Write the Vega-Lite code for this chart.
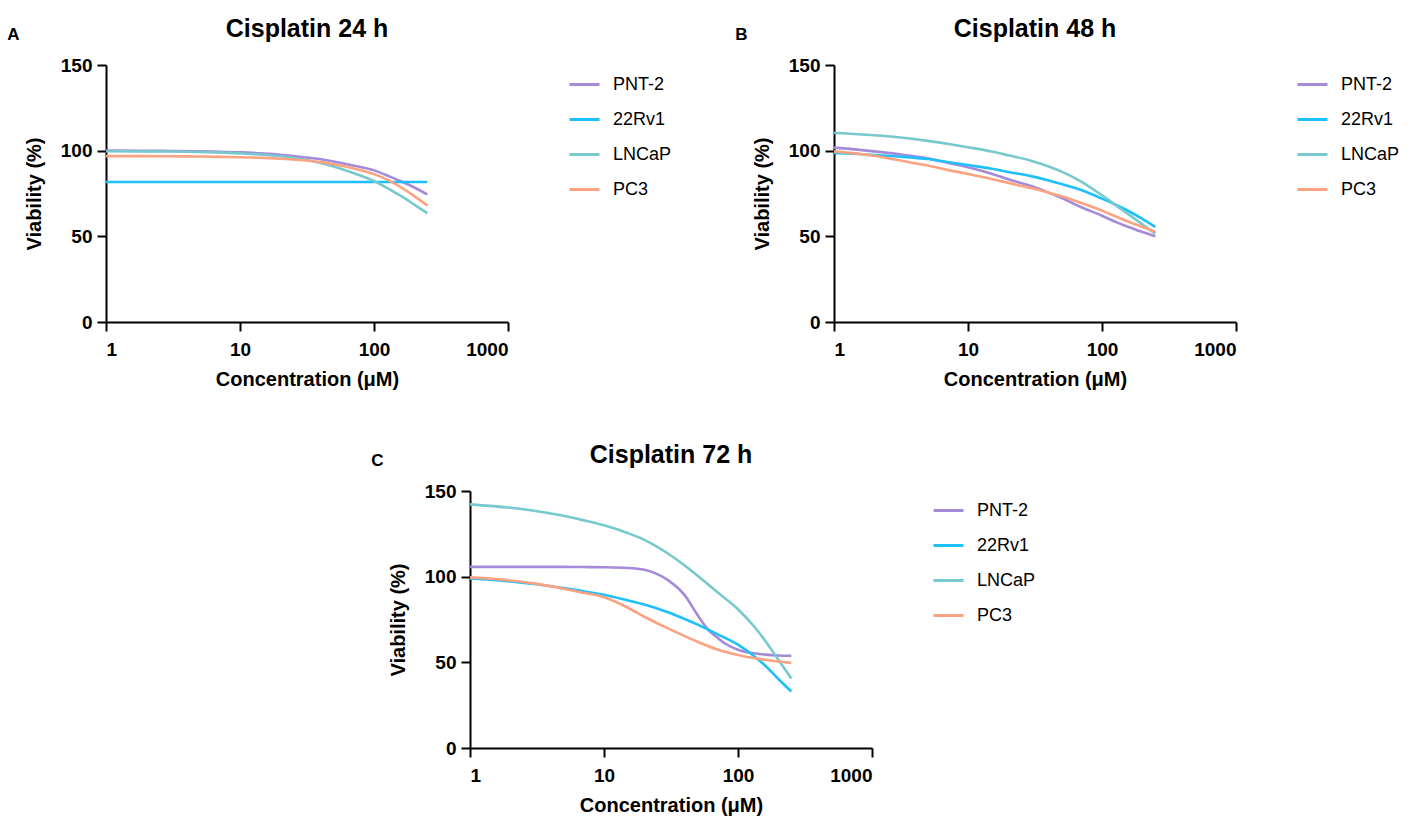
{
"$schema": "https://vega.github.io/schema/vega-lite/v6.json",
"background": "white",
"padding": {"left": 7, "top": 17, "right": 5, "bottom": 5},
"datasets": {
"curves": [
{"panel":"A","line":"PNT-2","conc":1,"viability":100},{"panel":"A","line":"PNT-2","conc":2,"viability":99.9},{"panel":"A","line":"PNT-2","conc":3,"viability":99.8},{"panel":"A","line":"PNT-2","conc":5,"viability":99.6},{"panel":"A","line":"PNT-2","conc":7,"viability":99.3},{"panel":"A","line":"PNT-2","conc":10,"viability":99},{"panel":"A","line":"PNT-2","conc":15,"viability":98.3},{"panel":"A","line":"PNT-2","conc":20,"viability":97.6},{"panel":"A","line":"PNT-2","conc":30,"viability":96.2},{"panel":"A","line":"PNT-2","conc":40,"viability":95},{"panel":"A","line":"PNT-2","conc":50,"viability":93.7},{"panel":"A","line":"PNT-2","conc":70,"viability":91.3},{"panel":"A","line":"PNT-2","conc":100,"viability":88.5},{"panel":"A","line":"PNT-2","conc":130,"viability":85},{"panel":"A","line":"PNT-2","conc":160,"viability":82},{"panel":"A","line":"PNT-2","conc":200,"viability":78.5},{"panel":"A","line":"PNT-2","conc":250,"viability":74.5},
{"panel":"A","line":"22Rv1","conc":1,"viability":81.7},{"panel":"A","line":"22Rv1","conc":10,"viability":81.7},{"panel":"A","line":"22Rv1","conc":100,"viability":81.7},{"panel":"A","line":"22Rv1","conc":250,"viability":81.7},
{"panel":"A","line":"LNCaP","conc":1,"viability":99.7},{"panel":"A","line":"LNCaP","conc":2,"viability":99.6},{"panel":"A","line":"LNCaP","conc":3,"viability":99.5},{"panel":"A","line":"LNCaP","conc":5,"viability":99.2},{"panel":"A","line":"LNCaP","conc":7,"viability":98.9},{"panel":"A","line":"LNCaP","conc":10,"viability":98.4},{"panel":"A","line":"LNCaP","conc":15,"viability":97.6},{"panel":"A","line":"LNCaP","conc":20,"viability":96.7},{"panel":"A","line":"LNCaP","conc":30,"viability":94.8},{"panel":"A","line":"LNCaP","conc":40,"viability":92.8},{"panel":"A","line":"LNCaP","conc":50,"viability":90.8},{"panel":"A","line":"LNCaP","conc":70,"viability":87},{"panel":"A","line":"LNCaP","conc":100,"viability":82.3},{"panel":"A","line":"LNCaP","conc":130,"viability":77.5},{"panel":"A","line":"LNCaP","conc":160,"viability":73.5},{"panel":"A","line":"LNCaP","conc":200,"viability":68.5},{"panel":"A","line":"LNCaP","conc":250,"viability":63.5},
{"panel":"A","line":"PC3","conc":1,"viability":96.8},{"panel":"A","line":"PC3","conc":2,"viability":96.8},{"panel":"A","line":"PC3","conc":3,"viability":96.7},{"panel":"A","line":"PC3","conc":5,"viability":96.6},{"panel":"A","line":"PC3","conc":7,"viability":96.4},{"panel":"A","line":"PC3","conc":10,"viability":96.2},{"panel":"A","line":"PC3","conc":15,"viability":95.8},{"panel":"A","line":"PC3","conc":20,"viability":95.3},{"panel":"A","line":"PC3","conc":30,"viability":94.4},{"panel":"A","line":"PC3","conc":40,"viability":93.3},{"panel":"A","line":"PC3","conc":50,"viability":92},{"panel":"A","line":"PC3","conc":70,"viability":89.7},{"panel":"A","line":"PC3","conc":100,"viability":86.3},{"panel":"A","line":"PC3","conc":130,"viability":82.5},{"panel":"A","line":"PC3","conc":160,"viability":78.5},{"panel":"A","line":"PC3","conc":200,"viability":73.5},{"panel":"A","line":"PC3","conc":250,"viability":68},

{"panel":"B","line":"PNT-2","conc":1,"viability":101.8},{"panel":"B","line":"PNT-2","conc":2,"viability":99.6},{"panel":"B","line":"PNT-2","conc":3,"viability":98},{"panel":"B","line":"PNT-2","conc":5,"viability":95.5},{"panel":"B","line":"PNT-2","conc":7,"viability":93},{"panel":"B","line":"PNT-2","conc":10,"viability":90.3},{"panel":"B","line":"PNT-2","conc":15,"viability":86.5},{"panel":"B","line":"PNT-2","conc":20,"viability":83.3},{"panel":"B","line":"PNT-2","conc":30,"viability":79.2},{"panel":"B","line":"PNT-2","conc":40,"viability":75.5},{"panel":"B","line":"PNT-2","conc":50,"viability":72.3},{"panel":"B","line":"PNT-2","conc":70,"viability":67},{"panel":"B","line":"PNT-2","conc":100,"viability":62},{"panel":"B","line":"PNT-2","conc":130,"viability":58},{"panel":"B","line":"PNT-2","conc":160,"viability":55.3},{"panel":"B","line":"PNT-2","conc":200,"viability":52.5},{"panel":"B","line":"PNT-2","conc":250,"viability":50},
{"panel":"B","line":"22Rv1","conc":1,"viability":98.6},{"panel":"B","line":"22Rv1","conc":2,"viability":97.5},{"panel":"B","line":"22Rv1","conc":3,"viability":96.6},{"panel":"B","line":"22Rv1","conc":5,"viability":95.1},{"panel":"B","line":"22Rv1","conc":7,"viability":93.4},{"panel":"B","line":"22Rv1","conc":10,"viability":91.6},{"panel":"B","line":"22Rv1","conc":15,"viability":89.5},{"panel":"B","line":"22Rv1","conc":20,"viability":87.6},{"panel":"B","line":"22Rv1","conc":30,"viability":85},{"panel":"B","line":"22Rv1","conc":40,"viability":82.6},{"panel":"B","line":"22Rv1","conc":50,"viability":80.5},{"panel":"B","line":"22Rv1","conc":70,"viability":77},{"panel":"B","line":"22Rv1","conc":100,"viability":72},{"panel":"B","line":"22Rv1","conc":130,"viability":68},{"panel":"B","line":"22Rv1","conc":160,"viability":64.5},{"panel":"B","line":"22Rv1","conc":200,"viability":60.2},{"panel":"B","line":"22Rv1","conc":250,"viability":55.5},
{"panel":"B","line":"LNCaP","conc":1,"viability":110.5},{"panel":"B","line":"LNCaP","conc":2,"viability":109},{"panel":"B","line":"LNCaP","conc":3,"viability":107.8},{"panel":"B","line":"LNCaP","conc":5,"viability":105.7},{"panel":"B","line":"LNCaP","conc":7,"viability":104},{"panel":"B","line":"LNCaP","conc":10,"viability":102},{"panel":"B","line":"LNCaP","conc":15,"viability":99.5},{"panel":"B","line":"LNCaP","conc":20,"viability":97.3},{"panel":"B","line":"LNCaP","conc":30,"viability":94},{"panel":"B","line":"LNCaP","conc":40,"viability":90.8},{"panel":"B","line":"LNCaP","conc":50,"viability":87.8},{"panel":"B","line":"LNCaP","conc":70,"viability":82},{"panel":"B","line":"LNCaP","conc":100,"viability":74},{"panel":"B","line":"LNCaP","conc":130,"viability":67.5},{"panel":"B","line":"LNCaP","conc":160,"viability":62.5},{"panel":"B","line":"LNCaP","conc":200,"viability":57},{"panel":"B","line":"LNCaP","conc":250,"viability":51.5},
{"panel":"B","line":"PC3","conc":1,"viability":99.6},{"panel":"B","line":"PC3","conc":2,"viability":97},{"panel":"B","line":"PC3","conc":3,"viability":94.5},{"panel":"B","line":"PC3","conc":5,"viability":91.3},{"panel":"B","line":"PC3","conc":7,"viability":88.8},{"panel":"B","line":"PC3","conc":10,"viability":86.4},{"panel":"B","line":"PC3","conc":15,"viability":83.5},{"panel":"B","line":"PC3","conc":20,"viability":81.2},{"panel":"B","line":"PC3","conc":30,"viability":78},{"panel":"B","line":"PC3","conc":40,"viability":75.5},{"panel":"B","line":"PC3","conc":50,"viability":73.4},{"panel":"B","line":"PC3","conc":70,"viability":69.5},{"panel":"B","line":"PC3","conc":100,"viability":65},{"panel":"B","line":"PC3","conc":130,"viability":61.2},{"panel":"B","line":"PC3","conc":160,"viability":58.3},{"panel":"B","line":"PC3","conc":200,"viability":55.5},{"panel":"B","line":"PC3","conc":250,"viability":52.7},

{"panel":"C","line":"PNT-2","conc":1,"viability":105.7},{"panel":"C","line":"PNT-2","conc":2,"viability":105.7},{"panel":"C","line":"PNT-2","conc":3,"viability":105.7},{"panel":"C","line":"PNT-2","conc":5,"viability":105.7},{"panel":"C","line":"PNT-2","conc":7,"viability":105.6},{"panel":"C","line":"PNT-2","conc":10,"viability":105.5},{"panel":"C","line":"PNT-2","conc":15,"viability":105.1},{"panel":"C","line":"PNT-2","conc":20,"viability":104},{"panel":"C","line":"PNT-2","conc":25,"viability":101.5},{"panel":"C","line":"PNT-2","conc":30,"viability":98},{"panel":"C","line":"PNT-2","conc":40,"viability":89.2},{"panel":"C","line":"PNT-2","conc":50,"viability":77.5},{"panel":"C","line":"PNT-2","conc":60,"viability":69},{"panel":"C","line":"PNT-2","conc":70,"viability":64.5},{"panel":"C","line":"PNT-2","conc":80,"viability":61},{"panel":"C","line":"PNT-2","conc":100,"viability":57.4},{"panel":"C","line":"PNT-2","conc":130,"viability":55.3},{"panel":"C","line":"PNT-2","conc":160,"viability":54.5},{"panel":"C","line":"PNT-2","conc":200,"viability":54},{"panel":"C","line":"PNT-2","conc":250,"viability":53.8},
{"panel":"C","line":"22Rv1","conc":1,"viability":98.9},{"panel":"C","line":"22Rv1","conc":2,"viability":97.2},{"panel":"C","line":"22Rv1","conc":3,"viability":95.7},{"panel":"C","line":"22Rv1","conc":5,"viability":93.3},{"panel":"C","line":"22Rv1","conc":7,"viability":91.5},{"panel":"C","line":"22Rv1","conc":10,"viability":89.5},{"panel":"C","line":"22Rv1","conc":15,"viability":86.2},{"panel":"C","line":"22Rv1","conc":20,"viability":83.7},{"panel":"C","line":"22Rv1","conc":30,"viability":79.2},{"panel":"C","line":"22Rv1","conc":40,"viability":75.3},{"panel":"C","line":"22Rv1","conc":50,"viability":72},{"panel":"C","line":"22Rv1","conc":70,"viability":66.5},{"panel":"C","line":"22Rv1","conc":100,"viability":60.3},{"panel":"C","line":"22Rv1","conc":130,"viability":54},{"panel":"C","line":"22Rv1","conc":160,"viability":48},{"panel":"C","line":"22Rv1","conc":200,"viability":40.3},{"panel":"C","line":"22Rv1","conc":250,"viability":33},
{"panel":"C","line":"LNCaP","conc":1,"viability":142.2},{"panel":"C","line":"LNCaP","conc":2,"viability":140.2},{"panel":"C","line":"LNCaP","conc":3,"viability":138.5},{"panel":"C","line":"LNCaP","conc":5,"viability":135.5},{"panel":"C","line":"LNCaP","conc":7,"viability":133},{"panel":"C","line":"LNCaP","conc":10,"viability":130},{"panel":"C","line":"LNCaP","conc":15,"viability":125.5},{"panel":"C","line":"LNCaP","conc":20,"viability":121.5},{"panel":"C","line":"LNCaP","conc":30,"viability":113.5},{"panel":"C","line":"LNCaP","conc":40,"viability":106.5},{"panel":"C","line":"LNCaP","conc":50,"viability":100.5},{"panel":"C","line":"LNCaP","conc":70,"viability":91},{"panel":"C","line":"LNCaP","conc":100,"viability":81},{"panel":"C","line":"LNCaP","conc":130,"viability":71.5},{"panel":"C","line":"LNCaP","conc":160,"viability":62.5},{"panel":"C","line":"LNCaP","conc":200,"viability":51.5},{"panel":"C","line":"LNCaP","conc":250,"viability":40.5},
{"panel":"C","line":"PC3","conc":1,"viability":99.6},{"panel":"C","line":"PC3","conc":2,"viability":97.8},{"panel":"C","line":"PC3","conc":3,"viability":96.1},{"panel":"C","line":"PC3","conc":5,"viability":93},{"panel":"C","line":"PC3","conc":7,"viability":90.6},{"panel":"C","line":"PC3","conc":10,"viability":88},{"panel":"C","line":"PC3","conc":15,"viability":82},{"panel":"C","line":"PC3","conc":20,"viability":76.6},{"panel":"C","line":"PC3","conc":30,"viability":69.8},{"panel":"C","line":"PC3","conc":40,"viability":65.3},{"panel":"C","line":"PC3","conc":50,"viability":62},{"panel":"C","line":"PC3","conc":70,"viability":57.5},{"panel":"C","line":"PC3","conc":100,"viability":54.3},{"panel":"C","line":"PC3","conc":130,"viability":52.5},{"panel":"C","line":"PC3","conc":160,"viability":51.5},{"panel":"C","line":"PC3","conc":200,"viability":50.5},{"panel":"C","line":"PC3","conc":250,"viability":49.7}
]
},
"center": true,
"spacing": 54,
"resolve": {"scale": {"color": "independent"}, "legend": {"color": "independent"}},
"vconcat": [
{
"spacing": 60,
"resolve": {"scale": {"color": "independent"}, "legend": {"color": "independent"}},
"hconcat": [
{
"title": {"text": "A", "anchor": "start", "frame": "bounds", "fontSize": 17, "dx": -17, "dy": 41},
"resolve": {"scale": {"color": "independent"}, "legend": {"color": "independent"}},
"vconcat": [{
"width": 402, "height": 257,
"data": {"name": "curves"},
"transform": [{"filter": "datum.panel === 'A'"}],
"title": {"text": "Cisplatin 24 h"},
"mark": {"type": "line", "interpolate": "monotone", "strokeWidth": 2.6},
"encoding": {
"x": {"field": "conc", "type": "quantitative", "scale": {"type": "log", "domain": [1, 1000]}, "axis": {"values": [1, 10, 100, 1000], "format": "d", "title": "Concentration (μM)"}},
"y": {"field": "viability", "type": "quantitative", "scale": {"domain": [0, 150]}, "axis": {"values": [0, 50, 100, 150], "title": "Viability (%)"}},
"color": {"field": "line", "type": "nominal", "scale": {"domain": ["PNT-2", "22Rv1", "LNCaP", "PC3"], "range": ["#a48ad8", "#1ec0fb", "#76c9cc", "#fba281"]}, "legend": {"title": null}}
}
}]
},
{
"title": {"text": "B", "anchor": "start", "frame": "bounds", "fontSize": 17, "dx": -17, "dy": 41},
"resolve": {"scale": {"color": "independent"}, "legend": {"color": "independent"}},
"vconcat": [{
"width": 402, "height": 257,
"data": {"name": "curves"},
"transform": [{"filter": "datum.panel === 'B'"}],
"title": {"text": "Cisplatin 48 h"},
"mark": {"type": "line", "interpolate": "monotone", "strokeWidth": 2.6},
"encoding": {
"x": {"field": "conc", "type": "quantitative", "scale": {"type": "log", "domain": [1, 1000]}, "axis": {"values": [1, 10, 100, 1000], "format": "d", "title": "Concentration (μM)"}},
"y": {"field": "viability", "type": "quantitative", "scale": {"domain": [0, 150]}, "axis": {"values": [0, 50, 100, 150], "title": "Viability (%)"}},
"color": {"field": "line", "type": "nominal", "scale": {"domain": ["PNT-2", "22Rv1", "LNCaP", "PC3"], "range": ["#a48ad8", "#1ec0fb", "#76c9cc", "#fba281"]}, "legend": {"title": null}}
}
}]
}
]
},
{
"title": {"text": "C", "anchor": "start", "frame": "bounds", "fontSize": 17, "dx": -17, "dy": 41},
"resolve": {"scale": {"color": "independent"}, "legend": {"color": "independent"}},
"vconcat": [{
"width": 402, "height": 257,
"data": {"name": "curves"},
"transform": [{"filter": "datum.panel === 'C'"}],
"title": {"text": "Cisplatin 72 h"},
"mark": {"type": "line", "interpolate": "monotone", "strokeWidth": 2.6},
"encoding": {
"x": {"field": "conc", "type": "quantitative", "scale": {"type": "log", "domain": [1, 1000]}, "axis": {"values": [1, 10, 100, 1000], "format": "d", "title": "Concentration (μM)"}},
"y": {"field": "viability", "type": "quantitative", "scale": {"domain": [0, 150]}, "axis": {"values": [0, 50, 100, 150], "title": "Viability (%)"}},
"color": {"field": "line", "type": "nominal", "scale": {"domain": ["PNT-2", "22Rv1", "LNCaP", "PC3"], "range": ["#a48ad8", "#1ec0fb", "#76c9cc", "#fba281"]}, "legend": {"title": null}}
}
}]
}
],
"config": {
"font": "Liberation Sans",
"view": {"stroke": null},
"title": {"fontSize": 25, "fontWeight": "bold", "color": "#000000", "offset": 14},
"axis": {
"grid": false,
"domainColor": "#000000", "domainWidth": 2,
"tickColor": "#000000", "tickWidth": 2, "tickSize": 9,
"labelFont": "Liberation Sans", "labelFontSize": 19, "labelFontWeight": "bold", "labelColor": "#000000", "labelPadding": 9,
"titleFont": "Liberation Sans", "titleFontSize": 20, "titleFontWeight": "bold", "titleColor": "#000000", "titlePadding": 10
},
"axisY": {"labelPadding": 5, "titlePadding": 16},
"legend": {
"orient": "right", "labelFont": "Liberation Sans", "labelFontSize": 18, "labelColor": "#000000",
"symbolType": "stroke", "symbolStrokeWidth": 3, "symbolSize": 900,
"rowPadding": 9, "offset": 57, "padding": 3, "labelOffset": 12
}
}
}
